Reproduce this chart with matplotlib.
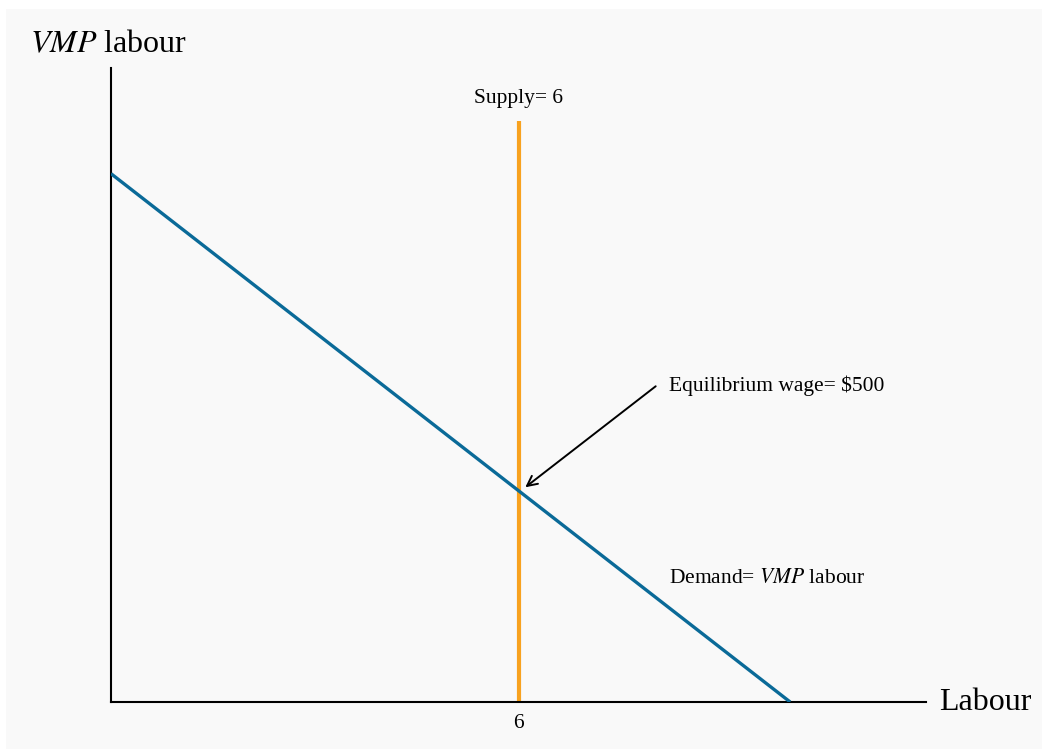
import matplotlib
matplotlib.use("Agg")
import matplotlib.pyplot as plt
from matplotlib.patches import Rectangle

plt.rcParams['font.family'] = ['Liberation Serif', 'DejaVu Serif']
plt.rcParams['mathtext.fontset'] = 'stix'

# Data
demand_labour = [0, 10]
demand_wage = [1250, 0]
supply_labour = [6, 6]
supply_wage = [0, 1375]
eq_labour = 6
eq_wage = 500
xticks = [6]
xtick_labels = ["6"]

W, H = 1042, 749
fig = plt.figure(figsize=(W / 100, H / 100), dpi=100, facecolor='white')
fig.patches.append(Rectangle((6 / W, 0), 1 - 6 / W, 1 - 9 / H, transform=fig.transFigure,
                             facecolor='#f9f9f9', edgecolor='none', zorder=-10))

ax = fig.add_axes([111 / W, (H - 702) / H, (926 - 111) / W, (702 - 68) / H])
ax.set_facecolor('none')
ax.set_xlim(0, 12)
ax.set_ylim(0, 1500)
for s in ['top', 'right']:
    ax.spines[s].set_visible(False)
for s in ['left', 'bottom']:
    ax.spines[s].set_linewidth(1.5)
    ax.spines[s].set_color('black')
ax.set_xticks(xticks)
ax.set_xticklabels(xtick_labels, fontsize=15.5)
ax.tick_params(axis='x', length=0, pad=9)
ax.set_yticks([])

ax.plot(demand_labour, demand_wage, color='#0a6a98', lw=2.4, solid_capstyle='butt', zorder=3)
ax.plot(supply_labour, supply_wage, color='#f8a21f', lw=3.0, solid_capstyle='butt', zorder=2)

ax.text(6, 1427, "Supply= 6", ha='center', va='center', fontsize=15.5)
ax.annotate("", xy=(eq_labour + 0.1, eq_wage + 8), xytext=(8.02, 747),
            arrowprops=dict(arrowstyle='->', color='black', lw=1.4, mutation_scale=18,
                            shrinkA=0, shrinkB=0))
ax.text(8.22, 749, "Equilibrium wage= $500", ha='left', va='center', fontsize=15.5)
ax.text(8.22, 293, "Demand= $VMP$ labour", ha='left', va='center', fontsize=15.5)

fig.text(30 / W, 1 - 45 / H, "$VMP$ labour", ha='left', va='center', fontsize=23)
fig.text(939 / W, 1 - 703 / H, "Labour", ha='left', va='center', fontsize=23)

fig.savefig("out.png", dpi=100, facecolor=fig.get_facecolor())
